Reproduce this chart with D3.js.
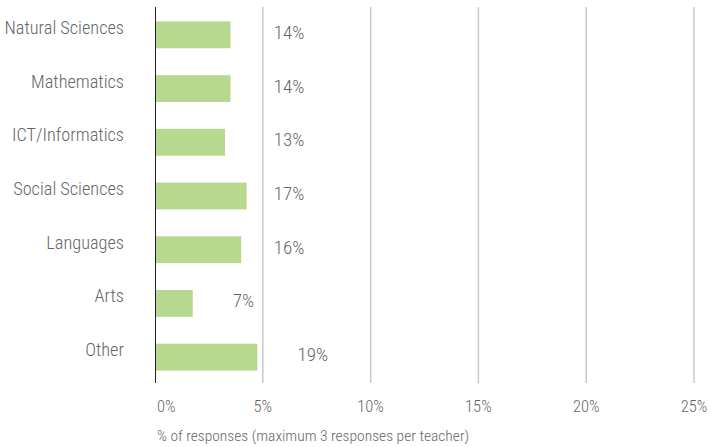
<!DOCTYPE html>
<html><head><meta charset="utf-8">
<script src="https://cdn.jsdelivr.net/npm/d3@7"></script>
<style>
body{margin:0;background:#fff;}
text{font-family:"Roboto Condensed","Liberation Sans Narrow","Arial Narrow",sans-serif;font-weight:300;fill:#666;}
</style></head>
<body><svg id="c" width="710" height="447"></svg>
<script>
const categories = ["Natural Sciences","Mathematics","ICT/Informatics","Social Sciences","Languages","Arts","Other"];
const barValues = [3.5,3.5,3.25,4.25,4,1.75,4.75];
const labelValues = [14,14,13,17,16,7,19];
const ticks = [0,5,10,15,20,25];
const axisTitle = "% of responses (maximum 3 responses per teacher)";

const svg = d3.select("#c");
const x = d3.scaleLinear().domain([0,25]).range([155,694]);
const y = d3.scaleBand().domain(categories).range([8,384]).paddingInner(0.5).paddingOuter(0.25);

// gridlines
svg.append("g").selectAll("line").data(ticks.filter(t=>t>0)).join("line")
  .attr("x1",d=>x(d)).attr("x2",d=>x(d)).attr("y1",7).attr("y2",383)
  .attr("stroke","#c9c9c9").attr("stroke-width",1.5);

// bars
svg.append("g").selectAll("rect").data(categories).join("rect")
  .attr("x",x(0)).attr("y",d=>y(d)).attr("height",y.bandwidth())
  .attr("width",(d,i)=>x(barValues[i])-x(0)).attr("fill","#b6d98f");

// axis line
svg.append("line").attr("x1",x(0)+0.5).attr("x2",x(0)+0.5).attr("y1",7).attr("y2",383)
  .attr("stroke","#222").attr("stroke-width",1);

// category labels
svg.append("g").selectAll("text").data(categories).join("text")
  .attr("x",124).attr("y",d=>y(d)+y.bandwidth()/2-1)
  .attr("text-anchor","end").attr("font-size",18.3).text(d=>d);

// value labels: placed beside the first gridline unless bar is short or reaches it
function labelX(v){
  const end = x(v), g = x(5);
  if (end + 40 + 25 < g || g - end < 10) return end + 40;
  return g + 11;
}
svg.append("g").selectAll("text").data(categories).join("text")
  .attr("x",(d,i)=>labelX(barValues[i])).attr("y",d=>y(d)+y.bandwidth()/2+4)
  .attr("font-size",19).text((d,i)=>labelValues[i]+"%");

// tick labels
svg.append("g").selectAll("text").data(ticks).join("text")
  .attr("x",d=>d===0?x(d)+2:x(d)).attr("y",412)
  .attr("text-anchor",d=>d===0?"start":"middle")
  .attr("font-size",16.5).text(d=>d+"%");

svg.append("text").attr("x",157).attr("y",441).attr("font-size",15.5).text(axisTitle);
</script></body></html>
